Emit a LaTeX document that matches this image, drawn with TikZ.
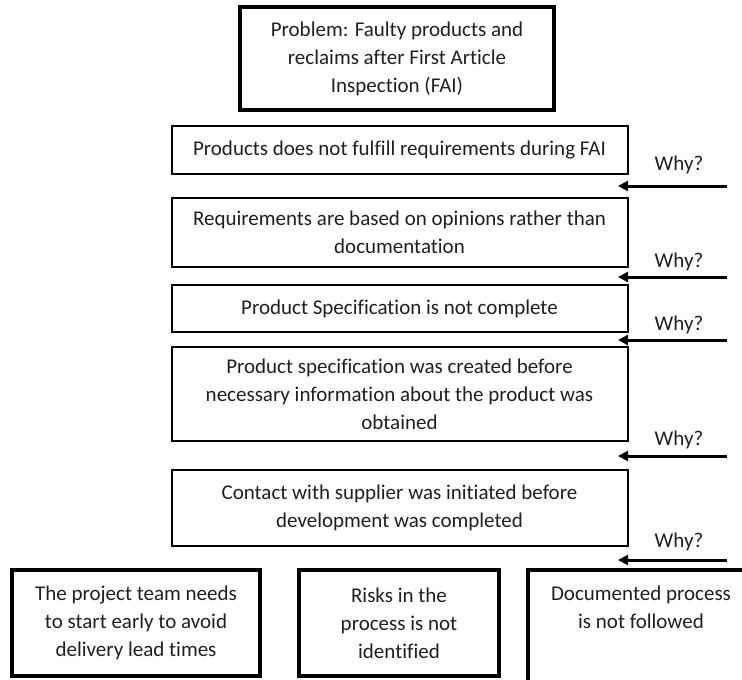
\documentclass[tikz,border=0pt]{standalone}
\usepackage{fontspec}
\setmainfont{Carlito}[Ligatures=NoCommon]
\usetikzlibrary{arrows.meta}

\begin{document}
\begin{tikzpicture}[x=1pt,y=-1pt,
  every node/.style={text=black!88, font={\fontsize{21pt}{28pt}\selectfont}},
  thinbox/.style={draw=black, line width=2pt, align=center, inner sep=0pt},
  thickbox/.style={draw=black, line width=4pt, align=center, inner sep=0pt},
  plaintext/.style={align=center, inner sep=0pt},
  whylabel/.style={inner sep=0pt},
  whyarrow/.style={draw=black, line width=3pt, -{Triangle[length=10pt,width=10pt]}}
]
  \useasboundingbox (0,0) rectangle (742,680);

  % problem statement
  \node[thickbox, minimum width=314pt, minimum height=103pt] (problem) at (397,58.5)
    {Problem: Faulty products and\\reclaims after First Article\\Inspection (FAI)};

  % chain of causes
  \node[thinbox, minimum width=456pt, minimum height=48pt] (c1) at (399.5,150)
    {Products does not fulfill requirements during FAI};
  \node[thinbox, minimum width=456pt, minimum height=69pt] (c2) at (399.5,232.5)
    {Requirements are based on opinions rather than\\documentation};
  \node[thinbox, minimum width=456pt, minimum height=47pt] (c3) at (399.5,308.5)
    {Product Specification is not complete};
  \node[thinbox, minimum width=456pt, minimum height=94pt] (c4) at (399.5,394)
    {Product specification was created before\\necessary information about the product was\\obtained};
  \node[thinbox, minimum width=456pt, minimum height=76pt] (c5) at (399.5,508)
    {Contact with supplier was initiated before\\development was completed};

  % root causes
  \node[thickbox, minimum width=248pt, minimum height=106pt] (r1) at (136,623)
    {The project team needs\\to start early to avoid\\delivery lead times};
  \node[thickbox, minimum width=200pt, minimum height=106pt] (r2) at (399,623)
    {Risks in the\\process is not\\identified};
  \node[thickbox, minimum width=226pt, minimum height=118pt] (r3) at (641,629) {};
  \node[plaintext, anchor=north] (r3text) at (641,586)
    {Documented process\\is not followed};

  % "Why?" labels and arrows
  \foreach \i/\ly/\ay in {1/165/186, 2/262/277, 3/325/340, 4/440/456, 5/542/560}{
    \node[whylabel] (why\i) at (679,\ly) {Why?};
    \coordinate (ws\i) at (727,\ay);
    \coordinate (we\i) at (618,\ay);
    \draw[whyarrow] (ws\i) -- (we\i);
  }
\end{tikzpicture}
\end{document}
